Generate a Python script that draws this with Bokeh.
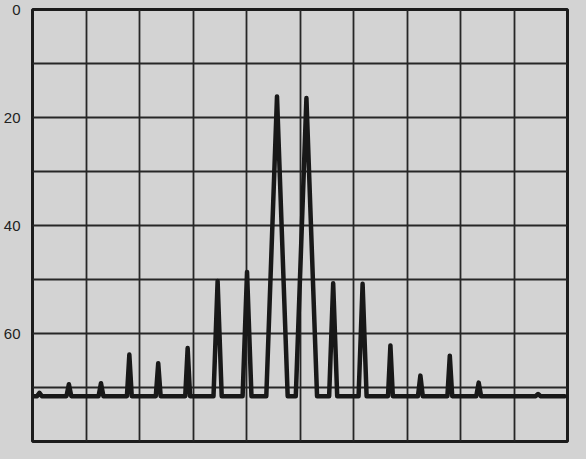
from bokeh.plotting import figure
from bokeh.models import Range1d, FixedTicker, GlobalInlineStyleSheet
from bokeh.embed import file_html
from bokeh.resources import INLINE

# --- data (x in graticule divisions, y in dB down) ---
peak_pos = [0.13, 0.68, 1.28, 1.81, 2.35, 2.90, 3.46, 4.01, 4.57, 5.12,
            5.62, 6.17, 6.69, 7.25, 7.80, 8.34, 9.45]
peak_db = [71.0, 69.4, 69.2, 63.9, 65.5, 62.7, 50.3, 48.6, 16.1, 16.4,
           50.7, 50.8, 62.2, 67.8, 64.1, 69.1, 71.2]
floor_db = 71.6
y_tick_values = [0, 20, 40, 60]
y_grid_values = [10, 20, 30, 40, 50, 60, 70]
x_grid_values = [1, 2, 3, 4, 5, 6, 7, 8, 9]

BG = "#d3d3d3"
INK = "#1c1c1c"
SLOPE = 0.0036     # divisions of half-width per dB of peak height
MIN_HW = 0.045

# build the trace polyline from the peak list
xs = [0.0]
ys = [floor_db]
for xc, lvl in zip(peak_pos, peak_db):
    hw = max(SLOPE * (floor_db - lvl), MIN_HW)
    xs += [xc - hw, xc, xc + hw]
    ys += [floor_db, lvl, floor_db]
xs.append(9.95)
ys.append(floor_db)

p = figure(width=570, height=443,
           x_range=Range1d(0, 10), y_range=Range1d(80, 0),
           output_backend="svg", toolbar_location=None,
           min_border_left=26, min_border_right=3,
           min_border_top=9, min_border_bottom=2,
           background_fill_color=BG, border_fill_color=BG)
p.stylesheets = [GlobalInlineStyleSheet(css="body { background-color: #d3d3d3; }")]

p.outline_line_color = INK
p.outline_line_width = 3

p.xgrid.ticker = FixedTicker(ticks=x_grid_values)
p.ygrid.ticker = FixedTicker(ticks=y_grid_values)
for g in (p.xgrid, p.ygrid):
    g.grid_line_color = "#262626"
    g.grid_line_width = 1.8
    g.grid_line_alpha = 1.0

p.xaxis.visible = False
ax = p.yaxis[0]
ax.ticker = FixedTicker(ticks=y_tick_values)
ax.axis_line_color = None
ax.major_tick_line_color = None
ax.minor_tick_line_color = None
ax.major_label_standoff = 6
ax.major_label_text_font = "Liberation Sans"
ax.major_label_text_font_size = "15px"
ax.major_label_text_color = "#222222"

p.line(xs, ys, line_color="#181818", line_width=4.5,
       line_join="round", line_cap="round")

open("out.html", "w").write(file_html(p, INLINE))
